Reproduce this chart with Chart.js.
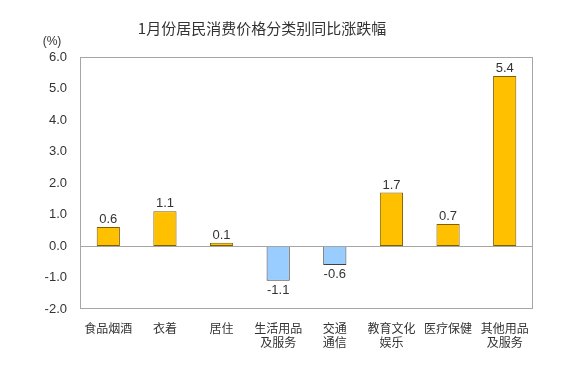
<!DOCTYPE html>
<html>
<head>
<meta charset="utf-8">
<script src="https://cdn.jsdelivr.net/npm/chart.js@4"></script>
<style>
  html, body { margin: 0; padding: 0; background: #fff; }
  #wrap { width: 582px; height: 374px; position: relative; }
</style>
</head>
<body>
<div id="wrap"><canvas id="cpi_chart"></canvas></div>
<script>
const cpi_labels = [
  ['食品烟酒'], ['衣着'], ['居住'], ['生活用品', '及服务'],
  ['交通', '通信'], ['教育文化', '娱乐'], ['医疗保健'], ['其他用品', '及服务']
];
const cpi_values = [0.6, 1.1, 0.1, -1.1, -0.6, 1.7, 0.7, 5.4];
const y_ticks = [-2.0, -1.0, 0.0, 1.0, 2.0, 3.0, 4.0, 5.0, 6.0];

const title_text = '1月份居民消费价格分类别同比涨跌幅';
const font_cn = '"Noto Sans CJK SC", "Liberation Sans", sans-serif';
const font_num = '"Liberation Sans", Arial, sans-serif';

const cpi_ctx = document.getElementById('cpi_chart');

// title, unit, frame, zero line and value labels
const decor_plugin = {
  id: 'decor',
  afterDraw(chart) {
    const c = chart.ctx;
    const area = chart.chartArea;
    const y = chart.scales.y;
    c.save();
    c.fillStyle = '#333';
    c.font = '15px ' + font_cn;
    c.textAlign = 'center';
    c.textBaseline = 'middle';
    c.fillText(title_text, 262, 28);
    c.font = '12px ' + font_num;
    c.fillText('(%)', 52, 42);

    c.strokeStyle = '#a6a6a6';
    c.lineWidth = 1;
    c.strokeRect(area.left + 0.5, area.top + 0.5, area.right - area.left - 1, area.bottom - area.top - 1);
    const zy = Math.round(y.getPixelForValue(0)) + 0.5;
    c.beginPath();
    c.moveTo(area.left, zy);
    c.lineTo(area.right, zy);
    c.stroke();

    c.fillStyle = '#333';
    c.font = '13px ' + font_num;
    const meta = chart.getDatasetMeta(0);
    meta.data.forEach((bar, i) => {
      const v = cpi_values[i];
      if (v >= 0) {
        c.textBaseline = 'bottom';
        c.fillText(v.toFixed(1), bar.x, bar.y - 1);
      } else {
        c.textBaseline = 'top';
        c.fillText(v.toFixed(1), bar.x, bar.y + 3);
      }
    });
    c.restore();
  }
};

const cpi_config = {
  type: 'bar',
  data: {
    labels: cpi_labels,
    datasets: [{
      data: cpi_values,
      backgroundColor: cpi_values.map(v => v >= 0 ? '#ffc000' : '#99ccff'),
      borderColor: cpi_values.map(v => v >= 0 ? '#7f6000' : '#404040'),
      borderWidth: 1,
      borderSkipped: false,
      categoryPercentage: 1.0,
      barPercentage: 0.41
    }]
  },
  options: {
    responsive: true,
    maintainAspectRatio: false,
    animation: false,
    layout: { padding: { left: 0, right: 49, top: 57, bottom: 0 } },
    plugins: {
      legend: { display: false },
      tooltip: { enabled: false }
    },
    scales: {
      x: {
        grid: { display: false },
        border: { display: false },
        ticks: {
          color: '#333',
          font: { family: font_cn, size: 12 },
          padding: 4,
          maxRotation: 0,
          autoSkip: false
        },
        afterFit(scale) { scale.height = 65; }
      },
      y: {
        min: y_ticks[0],
        max: y_ticks[y_ticks.length - 1],
        grid: { display: false, drawTicks: false },
        border: { display: false },
        afterBuildTicks(scale) { scale.ticks = y_ticks.map(v => ({ value: v })); },
        ticks: {
          color: '#333',
          font: { family: font_num, size: 13 },
          padding: 13,
          callback: v => v.toFixed(1)
        },
        afterFit(scale) { scale.width = 80; }
      }
    }
  },
  plugins: [decor_plugin]
};

const cpi_chart = new Chart(cpi_ctx, cpi_config);
</script>
</body>
</html>
